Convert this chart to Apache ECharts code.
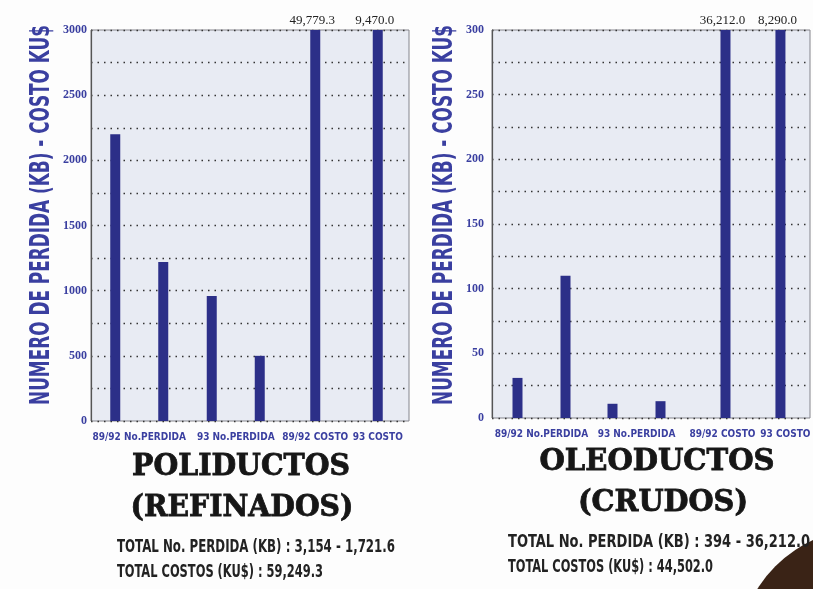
<!DOCTYPE html>
<html>
<head>
<meta charset="utf-8">
<script src="https://cdn.jsdelivr.net/npm/echarts@6/dist/echarts.min.js"></script>
<style>
  html, body { margin: 0; background: #fdfdfd; }
  #chart { width: 813px; height: 589px; }
</style>
</head>
<body>
<div id="chart"></div>
<script>
const categoriesPerdida = ['89/92 No.PERDIDA', '93 No.PERDIDA']
const categoriesCosto = ['89/92 COSTO', '93 COSTO']

// poliductos (refinados)
const poliNumero = [2200, 960]
const poliKB = [1220, 500]
const poliCosto = [49779.3, 9470.0]
const poliMax = 3000
const poliStep = 500

// oleoductos (crudos)
const oleoNumero = [31, 11]
const oleoKB = [110, 13]
const oleoCosto = [36212.0, 8290.0]
const oleoMax = 300
const oleoStep = 50

const yName = 'NUMERO DE PERDIDA (KB) - COSTO KU$'
const titles = [['POLIDUCTOS', '(REFINADOS)'], ['OLEODUCTOS', '(CRUDOS)']]
const totals = [
  ['TOTAL No. PERDIDA (KB) : 3,154 - 1,721.6', 'TOTAL COSTOS (KU$) : 59,249.3'],
  ['TOTAL No. PERDIDA (KB) : 394 - 36,212.0', 'TOTAL COSTOS (KU$) : 44,502.0'],
]

const BLUE = '#3a3fa0'
const BAR = '#2c2f88'
const COND = '"DejaVu Sans Condensed", sans-serif'

// canvas measure so the condensed scan lettering can be matched with scaleX
const ctx = document.createElement('canvas').getContext('2d')
const fit = (text, font, width) => {
  ctx.font = font
  return width / ctx.measureText(text).width
}

const panels = [
  {
    frame: { left: 91, top: 30, width: 318, height: 391 },
    pair: { left: 91, width: 193 },
    cost: { left: 284, width: 125 },
    costPad: [[0, 0, 0, 0], [0, 0, 0, 0]],
    max: poliMax, step: poliStep,
    numero: poliNumero, kb: poliKB, costo: poliCosto,
    labelMargin: 4,
    name: { x: 42, y: 215 },
    title: [{ x: 241, y: 467, w: 218 }, { x: 242, y: 508, w: 223 }],
    total: [{ x: 117, y: 547, w: 278 }, { x: 117, y: 572, w: 206 }],
  },
  {
    frame: { left: 492, top: 30, width: 318, height: 388 },
    pair: { left: 494, width: 190 },
    cost: { left: 698, width: 112 },
    costPad: [[0, 6, 0, 0], [0, 0, 0, 10]],
    max: oleoMax, step: oleoStep,
    numero: oleoNumero, kb: oleoKB, costo: oleoCosto,
    labelMargin: 8,
    name: { x: 445, y: 215 },
    title: [{ x: 657, y: 462, w: 235 }, { x: 663, y: 503, w: 170 }],
    total: [{ x: 508, y: 542, w: 302 }, { x: 508, y: 567, w: 205 }],
  },
]

const grid = []
const xAxis = []
const yAxis = []
const series = []

// dark photo edge in the bottom-right corner of the scan (drawn first, under the text)
const graphic = [{ type: 'circle', shape: { cx: 868, cy: 659, r: 131 }, style: { fill: '#3a2316' } }]

const catText = { color: BLUE, fontFamily: COND, fontWeight: 'bold', fontSize: 10 }

panels.forEach((p, i) => {
  const g = i * 3
  const h = p.frame.height

  // frame grid: background, border, y axis and dotted lines
  grid.push({ ...p.frame, show: true, backgroundColor: '#e8ebf3', borderColor: '#85858c', borderWidth: 1 })
  xAxis.push({ gridIndex: g, type: 'category', data: [], show: false })
  yAxis.push({
    gridIndex: g, type: 'value', min: 0, max: p.max, interval: p.step / 2,
    axisLine: { show: true, lineStyle: { color: '#555', width: 1.2 } },
    axisTick: { show: false },
    axisLabel: {
      margin: p.labelMargin,
      formatter: (v) => (v % p.step === 0 ? v : ''),
      color: BLUE, fontFamily: '"Liberation Serif", serif', fontWeight: 'bold', fontSize: 12,
    },
    splitLine: { show: true, lineStyle: { type: [1.5, 5], color: '#333', width: 1.3 } },
  })

  // No. perdida / KB pairs
  grid.push({ left: p.pair.left, top: p.frame.top, width: p.pair.width, height: h })
  xAxis.push({
    gridIndex: g + 1, type: 'category', data: categoriesPerdida,
    axisLine: { show: false }, axisTick: { show: false },
    axisLabel: { interval: 0, margin: 11, ...catText },
  })
  yAxis.push({ gridIndex: g + 1, type: 'value', min: 0, max: p.max, show: false })
  series.push({
    name: 'No. PERDIDA', type: 'bar', xAxisIndex: g + 1, yAxisIndex: g + 1,
    data: p.numero, barWidth: 10, barGap: '380%', itemStyle: { color: BAR },
  })
  series.push({
    name: 'KB', type: 'bar', xAxisIndex: g + 1, yAxisIndex: g + 1,
    data: p.kb, barWidth: 10, barGap: '380%', itemStyle: { color: BAR },
  })

  // costos (run off the top of the scale, value printed above)
  grid.push({ left: p.cost.left, top: p.frame.top, width: p.cost.width, height: h })
  xAxis.push({
    gridIndex: g + 2, type: 'category', data: categoriesCosto,
    axisLine: { show: false }, axisTick: { show: false },
    axisLabel: {
      interval: 0, margin: 11, ...catText,
      formatter: (v, idx) => `{c${idx}|${v}}`,
      rich: {
        c0: { ...catText, padding: p.costPad[0] },
        c1: { ...catText, padding: p.costPad[1] },
      },
    },
  })
  yAxis.push({ gridIndex: g + 2, type: 'value', min: 0, max: p.max, show: false })
  series.push({
    name: 'COSTO', type: 'bar', xAxisIndex: g + 2, yAxisIndex: g + 2,
    data: p.costo, barWidth: 10, clip: true, itemStyle: { color: BAR },
    label: {
      show: true, position: 'top', distance: 3, offset: [-3, 0],
      color: '#222', fontFamily: '"Liberation Serif", serif', fontSize: 13,
      formatter: (d) => d.value.toLocaleString('en-US', { minimumFractionDigits: 1, maximumFractionDigits: 1 }),
    },
  })

  // rotated axis title
  const nameFont = 'bold 26px "DejaVu Sans Condensed"'
  graphic.push({
    type: 'text', x: p.name.x, y: p.name.y, rotation: Math.PI / 2,
    scaleX: fit(yName, nameFont, 380),
    style: { text: yName, font: nameFont, fill: BLUE, align: 'center', verticalAlign: 'middle', textAlign: 'center', textVerticalAlign: 'middle' },
  })

  titles[i].forEach((t, k) => {
    const font = 'bold 30px "DejaVu Serif"'
    const pos = p.title[k]
    graphic.push({
      type: 'text', x: pos.x, y: pos.y, scaleX: fit(t, font, pos.w),
      style: { text: t, font, fill: '#161616', stroke: '#161616', lineWidth: 0.8, align: 'center', verticalAlign: 'middle', textAlign: 'center', textVerticalAlign: 'middle' },
    })
  })

  totals[i].forEach((t, k) => {
    const font = 'bold 18px "DejaVu Sans Condensed"'
    const pos = p.total[k]
    graphic.push({
      type: 'text', x: pos.x, y: pos.y, scaleX: fit(t, font, pos.w),
      style: { text: t, font, fill: '#222', align: 'left', verticalAlign: 'middle', textAlign: 'left', textVerticalAlign: 'middle' },
    })
  })
})

const chart = echarts.init(document.getElementById('chart'), null, { renderer: 'canvas' })
chart.setOption({
  animation: false,
  backgroundColor: '#fdfdfd',
  grid, xAxis, yAxis, series, graphic,
})
</script>
</body>
</html>
